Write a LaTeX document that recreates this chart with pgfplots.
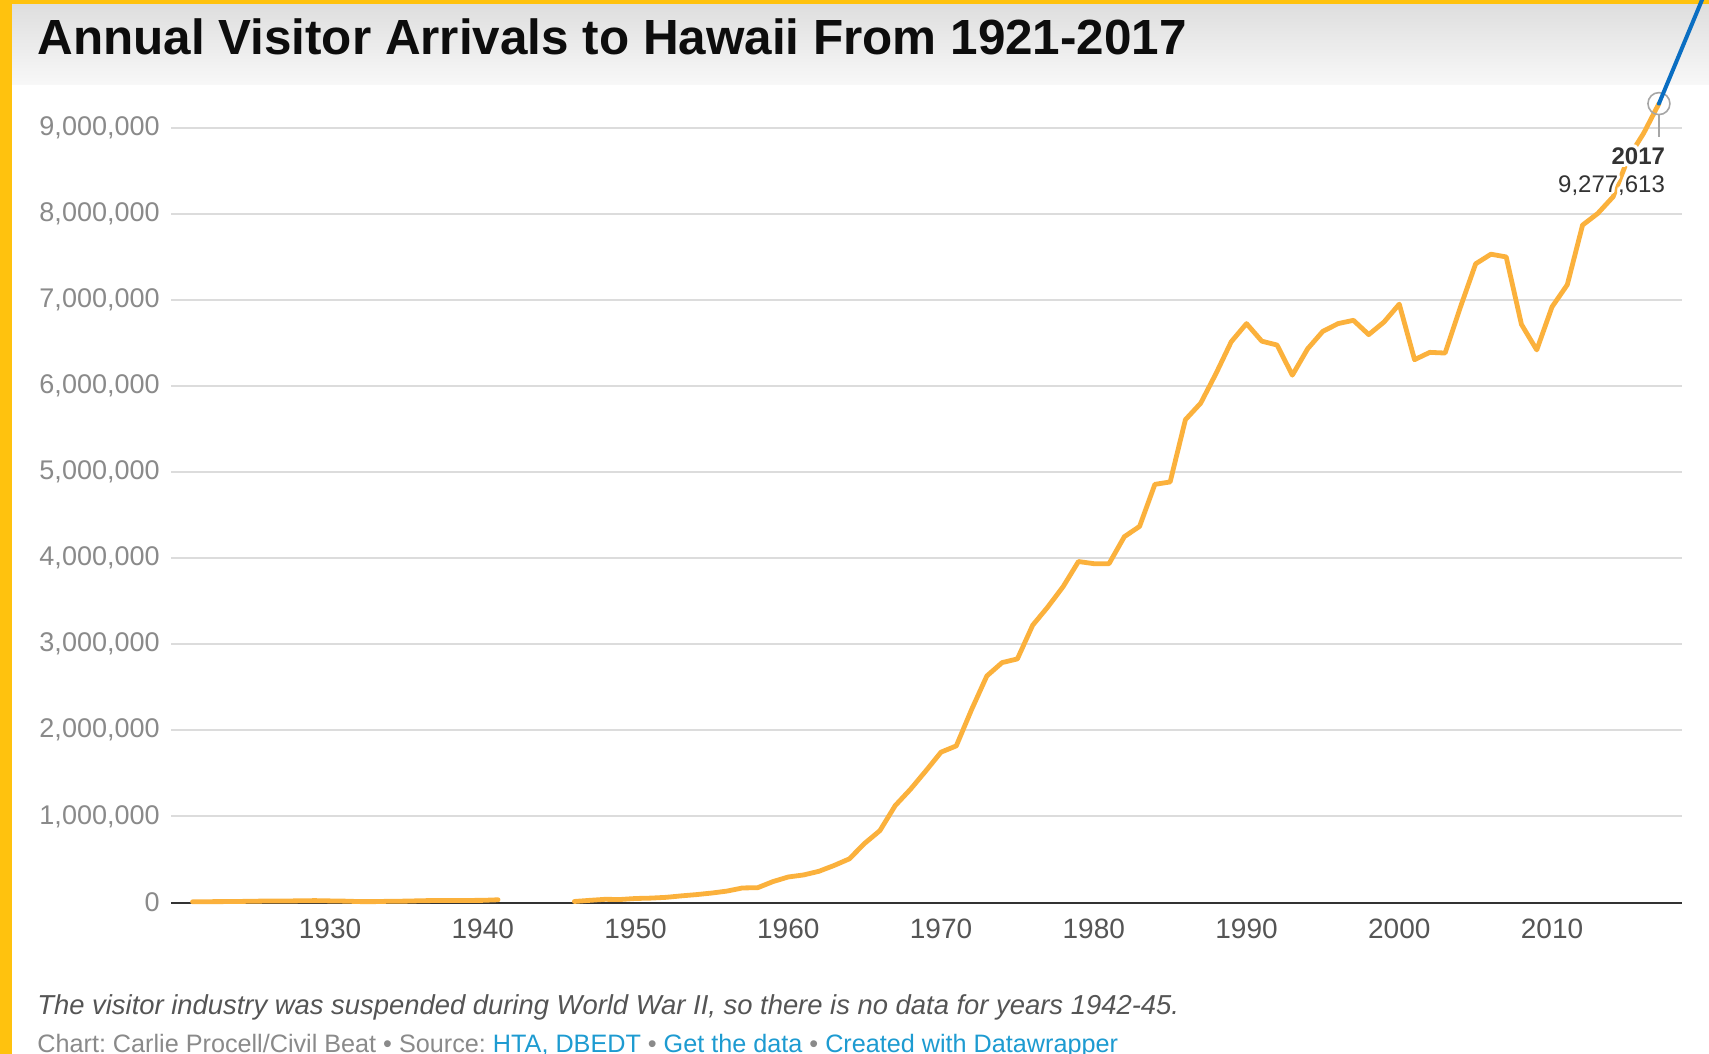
\documentclass[border=0pt]{standalone}
\usepackage{pgfplots}
\pgfplotsset{compat=1.18}
\usepackage{fontspec}
\setmainfont{Liberation Sans}
\frenchspacing

\definecolor{frameyellow}{HTML}{FFC20E}
\definecolor{lineorange}{HTML}{FBB13C}
\definecolor{gridgray}{HTML}{DCDCDC}
\definecolor{axisdark}{HTML}{333333}
\definecolor{ylabgray}{HTML}{8A8A8A}
\definecolor{xlabgray}{HTML}{555555}
\definecolor{notegray}{HTML}{555555}
\definecolor{creditgray}{HTML}{8A8A8A}
\definecolor{linkblue}{HTML}{1D9BD1}
\definecolor{penblue}{HTML}{0A6EC2}
\definecolor{titleband}{HTML}{DEDEDE}
\definecolor{titlebandlow}{HTML}{F8F8F8}

\begin{document}
\begin{tikzpicture}[x=0.5pt,y=-0.5pt]
\useasboundingbox (0,0) rectangle (1709,1054);
\clip (0,0) rectangle (1709,1054);
\fill[white] (0,0) rectangle (1709,1054);
% header band and frame
\shade[top color=titleband, bottom color=titlebandlow] (12,4) rectangle (1709,85);
\fill[frameyellow] (0,0) rectangle (12,1054);
\fill[frameyellow] (0,0) rectangle (1709,4);

\node[anchor=base west, inner sep=0, text=black!95,
      font=\fontsize{24.7pt}{28pt}\selectfont\bfseries] at (37,55)
  {Annual Visitor Arrivals to Hawaii From 1921-2017};

\begin{axis}[
  at={(85.5pt,-451.25pt)}, anchor=south west,
  scale only axis, width=755.5pt, height=387.5pt,
  xmin=1919.59, xmax=2018.51, ymin=0, ymax=9000000,
  clip=false,
  scaled y ticks=false, scaled x ticks=false,
  axis line style={draw=none},
  major tick length=0pt,
  xtick={1930,1940,1950,1960,1970,1980,1990,2000,2010},
  xticklabels={1930,1940,1950,1960,1970,1980,1990,2000,2010},
  ytick={1000000,2000000,3000000,4000000,5000000,6000000,7000000,8000000,9000000},
  yticklabels={{1,000,000},{2,000,000},{3,000,000},{4,000,000},{5,000,000},
               {6,000,000},{7,000,000},{8,000,000},{9,000,000}},
  extra y ticks={0},
  extra y tick labels={0},
  extra y tick style={major grid style={axisdark, line width=1pt}},
  ymajorgrids,
  major grid style={gridgray, line width=1pt},
  yticklabel style={font=\fontsize{13.5pt}{16pt}\selectfont, text=ylabgray,
                    anchor=east, inner sep=0pt, xshift=-5.5pt},
  xticklabel style={font=\fontsize{14pt}{16pt}\selectfont, text=xlabgray,
                    anchor=base, inner sep=0pt, yshift=-17.75pt},
]
% arrivals before the war
\addplot[lineorange, line width=2.4pt, line join=round, line cap=round] coordinates {
 (1921,8000) (1922,9700) (1923,10500) (1924,12000) (1925,15000)
 (1926,17500) (1927,17500) (1928,19500) (1929,22000) (1930,18700)
 (1931,15800) (1932,10400) (1933,10500) (1934,15000) (1935,16000)
 (1936,21000) (1937,23000) (1938,23000) (1939,24000) (1940,25000)
 (1941,31800)
};
% arrivals after the war
\addplot[lineorange, line width=2.4pt, line join=round, line cap=round] coordinates {
 (1946,12000) (1947,25000) (1948,37000) (1949,35000) (1950,46600)
 (1951,51000) (1952,60000) (1953,77000) (1954,92000) (1955,110000)
 (1956,133000) (1957,169000) (1958,172000) (1959,243000) (1960,296500)
 (1961,320000) (1962,362000) (1963,430000) (1964,507000) (1965,687000)
 (1966,835000) (1967,1125000) (1968,1315000) (1969,1527000) (1970,1746000)
 (1971,1819000) (1972,2240000) (1973,2631000) (1974,2786000) (1975,2829000)
 (1976,3220000) (1977,3434000) (1978,3670000) (1979,3960000) (1980,3935000)
 (1981,3935000) (1982,4248000) (1983,4368000) (1984,4856000) (1985,4884000)
 (1986,5607000) (1987,5799000) (1988,6142000) (1989,6512000) (1990,6723000)
 (1991,6519000) (1992,6474000) (1993,6124000) (1994,6430000) (1995,6634000)
 (1996,6723000) (1997,6761000) (1998,6595000) (1999,6741000) (2000,6949000)
 (2001,6304000) (2002,6389000) (2003,6381000) (2004,6913000) (2005,7417000)
 (2006,7529000) (2007,7497000) (2008,6713000) (2009,6417000) (2010,6917000)
 (2011,7174000) (2012,7867000) (2013,8003000) (2014,8196000) (2015,8650000)
 (2016,8934000) (2017,9277613)
};
% highlighted last year
\addplot[only marks, mark=o, mark size=5.5pt,
         mark options={draw=black!35, line width=0.8pt}] coordinates {(2017,9277613)};
\coordinate (p17) at (axis cs:2017,9277613);
\end{axis}

\draw[black!35, line width=0.8pt] ([yshift=-5.5pt]p17) -- ++(0,-11pt);

% value label with a white halo
\foreach \a in {0,30,...,330}{
  \node[anchor=base east, inner sep=0, text=white,
        font=\fontsize{12pt}{14pt}\selectfont\bfseries]
    at ([xshift=3.2pt, yshift=-30.5pt, shift={(\a:1.6pt)}]p17) {2017};
  \node[anchor=base east, inner sep=0, text=white,
        font=\fontsize{12pt}{14pt}\selectfont]
    at ([xshift=3.2pt, yshift=-44.3pt, shift={(\a:1.6pt)}]p17) {9,277,613};
}
\node[anchor=base east, inner sep=0, text=axisdark,
      font=\fontsize{12pt}{14pt}\selectfont\bfseries]
  at ([xshift=3.2pt, yshift=-30.5pt]p17) {2017};
\node[anchor=base east, inner sep=0, text=axisdark,
      font=\fontsize{12pt}{14pt}\selectfont]
  at ([xshift=3.2pt, yshift=-44.3pt]p17) {9,277,613};

\draw[penblue, line width=2pt, line cap=round] (p17) -- ++(44pt,106pt);

% notes
\node[anchor=base west, inner sep=0, text=notegray,
      font=\fontsize{13.7pt}{16pt}\selectfont\itshape] at (37,1014)
  {The visitor industry was suspended during World War II, so there is no data for years 1942-45.};
\node[anchor=base west, inner sep=0, text=creditgray,
      font=\fontsize{12.6pt}{15pt}\selectfont] at (37,1052)
  {Chart: Carlie Procell/Civil Beat • Source: \textcolor{linkblue}{HTA, DBEDT} • \textcolor{linkblue}{Get the data} • \textcolor{linkblue}{Created with Datawrapper}};
\end{tikzpicture}
\end{document}
